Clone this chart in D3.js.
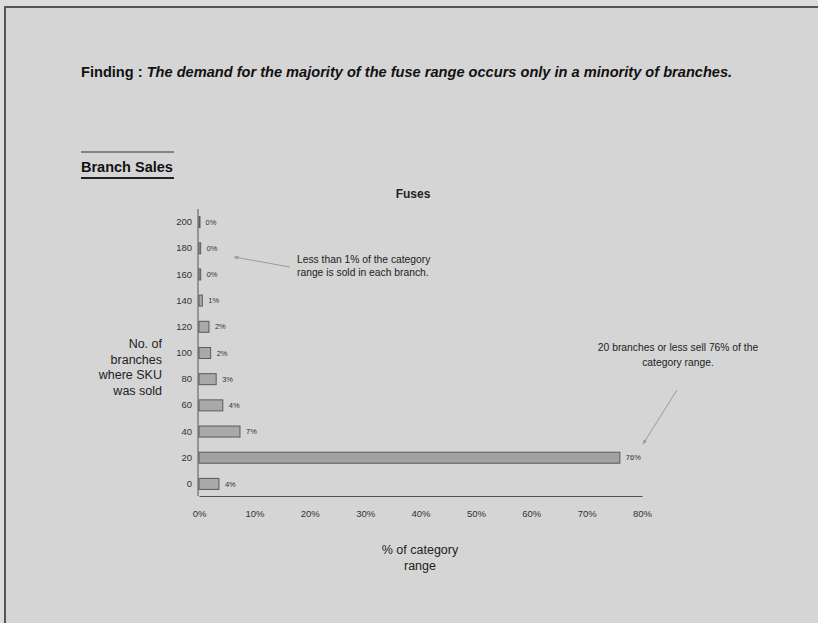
<!DOCTYPE html>
<html>
<head>
<meta charset="utf-8">
<script src="https://cdn.jsdelivr.net/npm/d3@7"></script>
<style>
  html, body { margin: 0; padding: 0; background: #dadada; }
  svg { display: block; font-family: "Liberation Sans", Arial, sans-serif; }
</style>
</head>
<body>
<svg id="chart" width="818" height="623"></svg>
<script>
// ---- data ----
const categories = ["200", "180", "160", "140", "120", "100", "80", "60", "40", "20", "0"];
const shares = [0.001, 0.003, 0.003, 0.006, 0.018, 0.021, 0.031, 0.043, 0.074, 0.76, 0.036];
const xTicks = [0, 0.1, 0.2, 0.3, 0.4, 0.5, 0.6, 0.7, 0.8];

const findingLabel = "Finding : ";
const findingText = "The demand for the majority of the fuse range occurs only in a minority of branches.";
const sectionTitle = "Branch Sales";
const chartTitle = "Fuses";
const yTitle = ["No. of", "branches", "where SKU", "was sold"];
const xTitle = ["% of category", "range"];
const note1 = ["Less than 1% of the category", "range is sold in each branch."];
const note2 = ["20 branches or less sell 76% of the", "category range."];

const svg = d3.select("#chart");

// background and frame
svg.append("rect").attr("x", 0).attr("y", 0).attr("width", 818).attr("height", 623).attr("fill", "#dcdcdc");
svg.append("rect").attr("x", 5).attr("y", 7).attr("width", 830).attr("height", 640)
  .attr("fill", "#d5d5d5").attr("stroke", "#555").attr("stroke-width", 2);

// finding line
const f = svg.append("text").attr("x", 81).attr("y", 77)
  .attr("font-size", 14.6).attr("font-weight", "bold").attr("fill", "#111");
f.append("tspan").text(findingLabel);
f.append("tspan").attr("font-style", "italic").text(findingText);

// section title
svg.append("line").attr("x1", 81).attr("x2", 174).attr("y1", 152).attr("y2", 152)
  .attr("stroke", "#333").attr("stroke-width", 1);
svg.append("text").attr("x", 81).attr("y", 172).attr("font-size", 14.5)
  .attr("font-weight", "bold").attr("fill", "#111").text(sectionTitle);
svg.append("line").attr("x1", 81).attr("x2", 174).attr("y1", 178).attr("y2", 178)
  .attr("stroke", "#222").attr("stroke-width", 2);

// scales
const x = d3.scaleLinear().domain([0, 0.8]).range([199, 642]);
const y = d3.scaleBand().domain(categories).range([209, 497]).paddingInner(0.58).paddingOuter(0.29);

// chart title
svg.append("text").attr("x", 413).attr("y", 198).attr("text-anchor", "middle")
  .attr("font-size", 12).attr("font-weight", "bold").attr("fill", "#222").text(chartTitle);

// bars
const data = categories.map((c, i) => ({ c, v: shares[i] }));
svg.append("g").selectAll("rect").data(data).join("rect")
  .attr("x", x(0))
  .attr("y", d => y(d.c))
  .attr("width", d => Math.max(1, x(d.v) - x(0)))
  .attr("height", y.bandwidth())
  .attr("fill", d => d.v > 0.5 ? "#a2a2a2" : "#a9a9a9")
  .attr("stroke", "#5a5a5a")
  .attr("stroke-width", 1);

// bar labels
const pct = d3.format(".0%");
svg.append("g").selectAll("text").data(data).join("text")
  .attr("x", d => x(d.v) + 6)
  .attr("y", d => y(d.c) + y.bandwidth() / 2)
  .attr("dy", "0.35em")
  .attr("font-size", 7.5)
  .attr("fill", "#333")
  .text(d => pct(d.v));

// axes
const yAxis = d3.axisLeft(y).tickSize(0).tickPadding(6);
const gy = svg.append("g").attr("transform", `translate(${x(0) - 1},0)`).call(yAxis);
gy.select(".domain").attr("stroke", "#555").attr("d", `M0,${y.range()[0]}V${y.range()[1] - 1}`);
gy.selectAll("text").attr("font-size", 9.5).attr("fill", "#333").attr("font-family", "Liberation Sans, Arial, sans-serif");

const xAxis = d3.axisBottom(x).tickValues(xTicks).tickFormat(d3.format(".0%")).tickSize(0).tickPadding(14);
const gx = svg.append("g").attr("transform", `translate(0,${y.range()[1] - 1})`).call(xAxis);
gx.select(".domain").attr("stroke", "#555");
gx.selectAll("text").attr("font-size", 9.5).attr("fill", "#333").attr("font-family", "Liberation Sans, Arial, sans-serif");

// axis titles
svg.append("g").selectAll("text").data(yTitle).join("text")
  .attr("x", 162).attr("y", (d, i) => 348 + i * 15.5)
  .attr("text-anchor", "end").attr("font-size", 12.5).attr("fill", "#222").text(d => d);
svg.append("g").selectAll("text").data(xTitle).join("text")
  .attr("x", 420).attr("y", (d, i) => 554 + i * 16)
  .attr("text-anchor", "middle").attr("font-size", 12.5).attr("fill", "#222").text(d => d);

// annotations
const defs = svg.append("defs");
defs.append("marker").attr("id", "ah").attr("viewBox", "0 0 10 10").attr("refX", 9).attr("refY", 5)
  .attr("markerWidth", 5).attr("markerHeight", 5).attr("orient", "auto")
  .append("path").attr("d", "M0,1L10,5L0,9Z").attr("fill", "#9a9a9a");

svg.append("g").selectAll("text").data(note1).join("text")
  .attr("x", 297).attr("y", (d, i) => 263 + i * 13)
  .attr("font-size", 10.3).attr("fill", "#222").text(d => d);
svg.append("line").attr("x1", 290).attr("y1", 267).attr("x2", 234).attr("y2", 257)
  .attr("stroke", "#9a9a9a").attr("stroke-width", 1).attr("marker-end", "url(#ah)");

svg.append("g").selectAll("text").data(note2).join("text")
  .attr("x", 678).attr("y", (d, i) => 351 + i * 15)
  .attr("text-anchor", "middle").attr("font-size", 10.3).attr("fill", "#222").text(d => d);
svg.append("line").attr("x1", 677).attr("y1", 390).attr("x2", 643).attr("y2", 444)
  .attr("stroke", "#9a9a9a").attr("stroke-width", 1).attr("marker-end", "url(#ah)");
</script>
</body>
</html>
